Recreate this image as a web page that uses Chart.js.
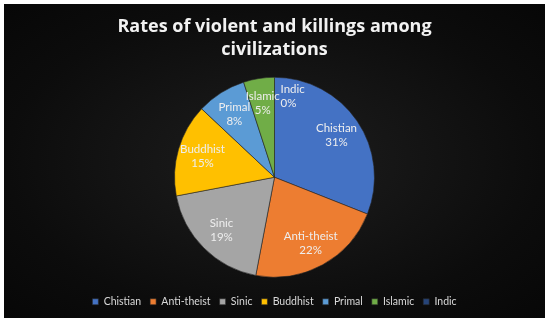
<!DOCTYPE html>
<html>
<head>
<meta charset="utf-8">
<script src="https://cdn.jsdelivr.net/npm/chart.js@4.4.0/dist/chart.umd.min.js"></script>
<style>
    html, body { margin: 0; padding: 0; background: #ffffff; }
    #frame {
        position: absolute; left: 4px; top: 4px; width: 541px; height: 314px;
        background: radial-gradient(ellipse at center, #1e1e1e 0%, #0c0c0c 70%, #070707 100%);
    }
</style>
</head>
<body>
<div id="frame"><canvas id="chart1" width="541" height="314"></canvas></div>
<script>
    "use strict";

    // data
    var categories = ['Chistian', 'Anti-theist', 'Sinic', 'Buddhist', 'Primal', 'Islamic', 'Indic'];
    var shares = [31, 22, 19, 15, 8, 5, 0];
    var sliceColors = ['#4472c4', '#ed7d31', '#a5a5a5', '#ffc000', '#5b9bd5', '#70ad47', '#264478'];

    // labels inside the slices: name + percent
    var sliceLabels = {
        id: 'sliceLabels',
        afterDatasetsDraw: function (chart) {
            var c = chart.ctx;
            var arcs = chart.getDatasetMeta(0).data;
            c.save();
            c.font = '11.5px Lato, sans-serif';
            c.fillStyle = '#eeeeee';
            c.textBaseline = 'middle';
            arcs.forEach(function (arc, i) {
                var p = arc.getProps(['x', 'y', 'startAngle', 'endAngle', 'outerRadius'], true);
                var mid = (p.startAngle + p.endAngle) / 2;
                var r = p.outerRadius * 0.75;
                var x = p.x + Math.cos(mid) * r;
                var y = p.y + Math.sin(mid) * r;
                c.textAlign = 'center';
                if (shares[i] === 0) {
                    // empty slice: push the label off to the right of the seam
                    c.textAlign = 'left';
                    x += 6;
                    y -= 6;
                }
                c.fillText(categories[i], x, y - 7);
                c.fillText(shares[i] + '%', x, y + 7);
            });
            c.restore();
        }
    };

    var ctx = document.getElementById('chart1').getContext('2d');
    var myChart = new Chart(ctx, {
        type: 'pie',
        data: {
            labels: categories,
            datasets: [{
                data: shares,
                backgroundColor: sliceColors,
                borderColor: '#262626',
                borderWidth: 0.6
            }]
        },
        options: {
            responsive: false,
            animation: false,
            layout: { padding: { bottom: 1 } },
            plugins: {
                title: {
                    display: true,
                    text: ['Rates of violent and killings among', 'civilizations'],
                    color: '#f2f2f2',
                    font: { family: '"Open Sans", sans-serif', size: 18, weight: 'bold', lineHeight: 1.25 },
                    padding: { top: 12, bottom: 16 }
                },
                // empty spacer between the pie and the legend
                subtitle: {
                    display: true,
                    position: 'bottom',
                    weight: 500,
                    text: ' ',
                    font: { size: 2, lineHeight: 1 },
                    padding: { top: 0, bottom: 8 }
                },
                legend: {
                    position: 'bottom',
                    labels: {
                        color: '#d9d9d9',
                        font: { family: 'Lato, sans-serif', size: 10.5 },
                        boxWidth: 6,
                        boxHeight: 6,
                        padding: 9
                    }
                },
                tooltip: { enabled: false }
            }
        },
        plugins: [sliceLabels]
    });
</script>
</body>
</html>
